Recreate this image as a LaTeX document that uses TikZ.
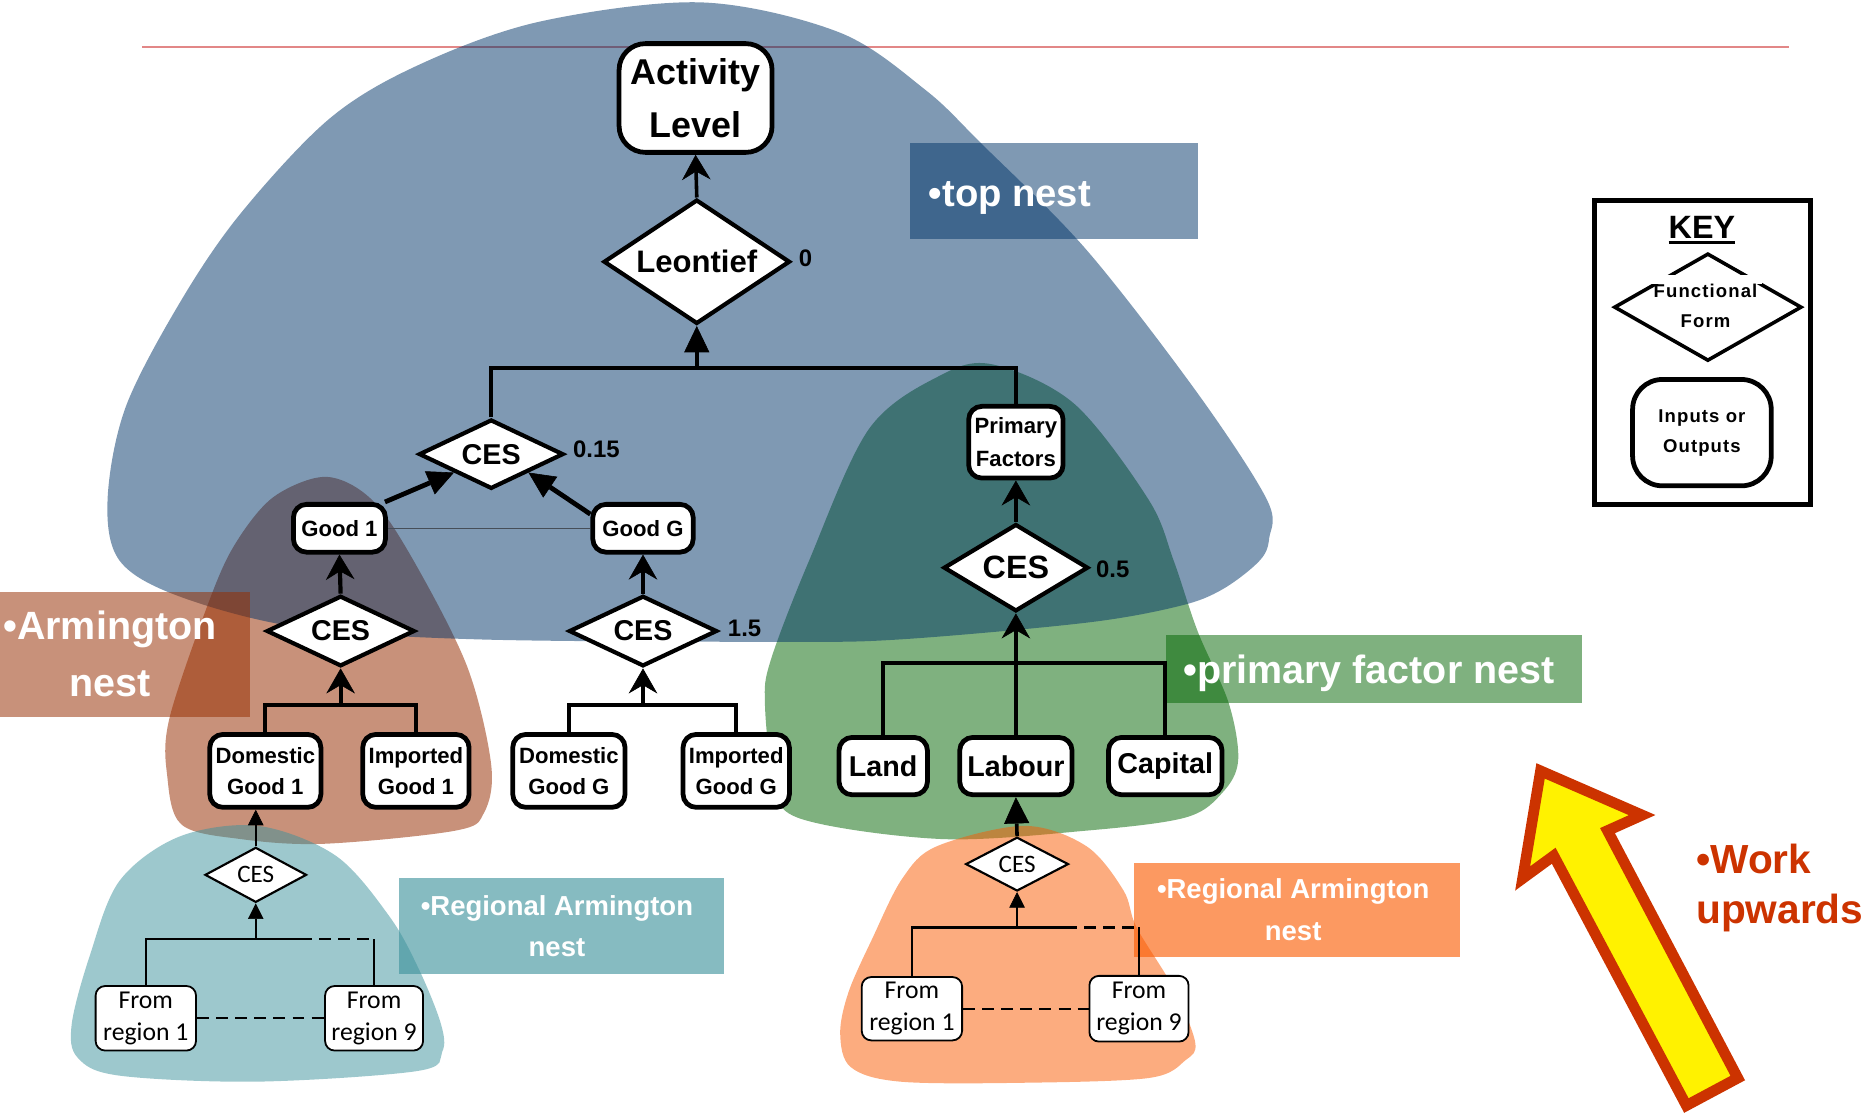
\documentclass[tikz,border=0pt]{standalone}
\usepackage{fontspec}
\setmainfont{Liberation Sans}
\newfontfamily\calfont{Carlito}
\newfontfamily\keyfont[LetterSpace=6]{Liberation Sans}
\usetikzlibrary{shapes.geometric,arrows.meta}
\newcommand\fsz[2]{\fontsize{#1}{#2}\selectfont}

\definecolor{nestblue}{RGB}{0,52,104}
\definecolor{nestbrown}{RGB}{150,45,0}
\definecolor{nestgreen}{RGB}{0,100,0}
\definecolor{nestteal}{RGB}{60,145,155}
\definecolor{nestorange}{RGB}{250,90,0}
\definecolor{guide}{RGB}{226,135,135}
\definecolor{workred}{RGB}{204,51,0}
\definecolor{linkgray}{RGB}{70,78,88}

\begin{document}
\begin{tikzpicture}[x=1pt,y=-1pt,
  sz/.style 2 args={minimum width=#1pt,minimum height=#2pt},
  box/.style={draw,fill=white,line width=4pt,rounded corners=11pt,inner sep=0pt,align=center,font=\bfseries\fsz{18.5}{26}},
  fform/.style={diamond,draw,fill=white,line width=3.5pt,inner sep=0pt,aspect=2,font=\bfseries\fsz{24}{28}},
  rbox/.style={draw,fill=white,line width=1.5pt,rounded corners=8pt,inner sep=0pt,align=center,font=\calfont\fsz{21.5}{27}},
  rform/.style={diamond,draw,fill=white,line width=1.8pt,inner sep=0pt,aspect=2,font=\calfont\fsz{21}{24}},
  param/.style={inner sep=0pt,font=\bfseries\fsz{20}{22}},
  conn/.style={line width=3.5pt},
  thinconn/.style={line width=1.8pt},
  barbtip/.style={-{Stealth[length=21pt,width=24pt,inset=7pt,line width=0.5pt]}},
  tri/.style={-{Triangle[length=22pt,width=21pt,line width=0.5pt]}},
  smalltri/.style={-{Triangle[length=13pt,width=13pt,line width=0.5pt]}},
  nesttext/.style={inner sep=0pt,text=white,font=\bfseries\fsz{33}{48}},
  keytext/.style={inner sep=0pt,align=center,font=\keyfont\bfseries\fsz{15.5}{25}},
]
\useasboundingbox (0,0) rectangle (1568,937);

% guide rule across the top
\draw[guide,line width=1.5pt] (119,39) -- (1497,39);

% nest regions
\fill[nestbrown,fill opacity=.52] plot[smooth cycle,tension=.55] coordinates {
  (273,399) (311,418) (346,469) (391,558) (411,640) (405,680) (381,695) (271,706)
  (201,702) (152,690) (140,650) (142,600) (178,495) (200,450) (230,415)};
\fill[nestgreen,fill opacity=.5] plot[smooth cycle,tension=.55] coordinates {
  (831,305) (899,338) (961,418) (982,469) (1002,528) (1028,588) (1036,636) (1023,663)
  (992,684) (909,695) (787,702) (667,684) (647,648) (640,588) (645,552) (677,469)
  (727,359) (787,314)};
\fill[nestblue,fill opacity=.5] plot[smooth cycle,tension=.55] coordinates {
  (105,341) (150,254) (201,179) (276,99) (351,54) (452,18) (587,2) (702,27) (774,75)
  (821,120) (909,209) (1002,329) (1060,418) (1062,450) (1054,469) (1023,493) (987,507)
  (909,521) (753,535) (652,537) (401,535) (251,525) (150,499) (100,469) (90,418)};
\fill[nestteal,fill opacity=.5] plot[smooth cycle,tension=.55] coordinates {
  (216,691) (281,716) (326,767) (351,812) (369,857) (370,880) (350,896) (216,905)
  (100,900) (65,885) (60,857) (75,800) (100,737) (150,700)};
\fill[nestorange,fill opacity=.5] plot[smooth cycle,tension=.55] coordinates {
  (857,691) (909,708) (940,745) (951,776) (982,827) (1000,872) (992,887) (961,902)
  (853,906) (753,905) (712,893) (703,865) (710,830) (730,785) (755,735) (784,708)};

% nest captions
\fill[nestblue,fill opacity=.5] (761,120) rectangle (1002,200);
\fill[nestbrown,fill opacity=.52] (0,495) rectangle (209,600);
\fill[nestgreen,fill opacity=.5] (976,531) rectangle (1324,588);
\fill[nestteal,fill opacity=.62] (334,735) rectangle (606,815);
\fill[nestorange,fill opacity=.62] (949,722) rectangle (1222,801);

\node[nesttext,anchor=base west,font=\bfseries\fsz{32}{36}] (toptxt) at (777,173) {•top nest};
\node[nesttext,align=center] (armtxt) at (92,547) {•Armington\\nest};
\node[nesttext,anchor=base west] (pfntxt) at (990,572) {•primary factor nest};
\node[nesttext,align=center,font=\bfseries\fsz{23}{34}] (rltxt) at (466,775) {•Regional Armington\\nest};
\node[nesttext,align=center,font=\bfseries\fsz{23}{35}] (rrtxt) at (1082,761) {•Regional Armington\\nest};

% top nest
\node[box,sz={128}{91},rounded corners=22pt,font=\bfseries\fsz{30}{44}] (act) at (582,82) {Activity\\Level};
\node[fform,sz={156}{104},font=\bfseries\fsz{26}{30}] (leon) at (583,219) {Leontief};
\node[param] (p0) at (674,216) {0};
\node[fform,sz={121}{58}] (c015) at (411,380) {CES};
\node[param] (p015) at (499,376) {0.15};
\node[box,sz={77}{40}] (g1) at (284,442) {Good 1};
\node[box,sz={84}{40}] (gG) at (538,442) {Good G};

% Armington nests
\node[fform,sz={124}{59}] (cA1) at (285,528) {CES};
\node[fform,sz={124}{59}] (cAG) at (538,528) {CES};
\node[param] (p15) at (623,526) {1.5};
\node[box,sz={93}{61}] (dg1) at (222,645) {Domestic\\Good 1};
\node[box,sz={89}{61}] (ig1) at (348,645) {Imported\\Good 1};
\node[box,sz={94}{61}] (dgG) at (476,645) {Domestic\\Good G};
\node[box,sz={89}{61}] (igG) at (616,645) {Imported\\Good G};

% primary factor nest
\node[box,sz={79}{60},font=\bfseries\fsz{18.5}{27}] (pf) at (850,370) {Primary\\Factors};
\node[fform,sz={121}{73},font=\bfseries\fsz{27}{30}] (c05) at (850,475) {CES};
\node[param] (p05) at (931,476) {0.5};
\node[box,sz={74}{48},font=\bfseries\fsz{24}{28}] (land) at (739,641) {Land};
\node[box,sz={94}{48},font=\bfseries\fsz{24}{28}] (labour) at (850,641) {Labour};
\node[box,sz={95}{48},font=\bfseries\fsz{24}{28}] (capital) at (975,641) {Capital};

% regional Armington nests
\node[rform,sz={85}{46}] (cL) at (214,732) {CES};
\node[rbox,sz={84}{54}] (f1L) at (122,852) {From\\region 1};
\node[rbox,sz={82}{54}] (f9L) at (313,852) {From\\region 9};
\node[rform,sz={86}{45}] (cR) at (851,723) {CES};
\node[rbox,sz={84}{53}] (f1R) at (763,844) {From\\region 1};
\node[rbox,sz={83}{55}] (f9R) at (953,844) {From\\region 9};

% connectors: top nest
\coordinate (tb) at (583,308);
\draw[conn] (c015.north) |- (tb) -| (pf.north);
\draw[conn,tri] (tb) -- (leon.south);
\draw[line width=3pt,barbtip] (leon.north) -- (act.south);
\draw[line width=4pt,tri] (g1.30) -- (c015.south west);
\draw[line width=4pt,tri] (gG.165) -- (c015.south east);
\draw[linkgray,line width=1pt] (g1.east) -- (gG.west);

% connectors: Armington nests
\coordinate (b1) at (285,590);
\coordinate (bG) at (538,590);
\draw[conn,barbtip] (cA1.north) -- (g1.south);
\draw[conn] (dg1.north) |- (b1) -| (ig1.north);
\draw[conn,barbtip] (b1) -- (cA1.south);
\draw[conn,barbtip] (cAG.north) -- (gG.south);
\draw[conn] (dgG.north) |- (bG) -| (igG.north);
\draw[conn,barbtip] (bG) -- (cAG.south);

% connectors: primary factor nest
\coordinate (bP) at (850,555);
\draw[conn,barbtip] (c05.north) -- (pf.south);
\draw[conn] (land.north) |- (bP) -| (capital.north);
\draw[conn] (labour.north) -- (bP);
\draw[conn,barbtip] (bP) -- (c05.south);

% connectors: regional nest (left)
\coordinate (rL) at (214,786);
\coordinate (rLd) at (251,786);
\draw[thinconn] (f1L.north) |- (rLd);
\draw[thinconn,dash pattern=on 10pt off 6pt] (rLd) -- (rLd -| f9L.north);
\draw[thinconn] (rLd -| f9L.north) -- (f9L.north);
\draw[thinconn,smalltri] (rL) -- (cL.south);
\draw[thinconn,smalltri] (cL.north) -- (cL.north |- dg1.south);
\draw[thinconn,dash pattern=on 10pt off 6pt] (f1L.east) -- (f9L.west);

% connectors: regional nest (right)
\coordinate (rR) at (851,776);
\coordinate (rRd) at (891,776);
\draw[thinconn] (f1R.north) |- (rRd);
\draw[thinconn,dash pattern=on 10pt off 6pt] (rRd) -- (rRd -| f9R.north);
\draw[thinconn] (rRd -| f9R.north) -- (f9R.north);
\draw[thinconn,smalltri] (rR) -- (cR.south);
\draw[line width=3pt,tri] (cR.north) -- (labour.south);
\draw[thinconn,dash pattern=on 10pt off 6pt] (f1R.east) -- (f9R.west);

% key
\node[draw,line width=4pt,sz={181}{254},inner sep=0pt] (keybox) at (1424.5,295) {};
\node[inner sep=0pt,font=\bfseries\fsz{27}{30}] (keyt) at (1424,190) {KEY};
\draw[line width=2.5pt] ([yshift=-4pt]keyt.base west) -- ([yshift=-4pt]keyt.base east);
\node[diamond,draw,line width=3pt,inner sep=0pt,sz={157}{90}] (keyd) at (1429,257) {};
\fill[white] (1379,230) rectangle (1474,238);
\node[keytext] (keydt) at (1427,256) {Functional\\Form};
\node[draw,line width=4pt,rounded corners=25pt,sz={116}{89},keytext] (keyr) at (1424,362) {Inputs or\\Outputs};

% work upwards
\filldraw[fill=yellow,draw=workred,line width=9pt,line join=miter]
  (1289,645) -- (1374,682) -- (1345,695) -- (1454,902) -- (1411,925) -- (1300,716) -- (1274,735) -- cycle;
\node[anchor=west,inner sep=0pt,align=left,text=workred,font=\bfseries\fsz{34}{42}] (work) at (1419,743) {•Work\\upwards};
\end{tikzpicture}
\end{document}
